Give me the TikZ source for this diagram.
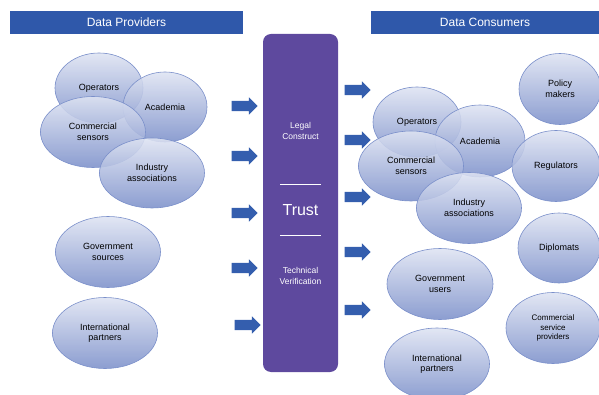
\documentclass[tikz,border=0pt]{standalone}
\usepackage{fontspec}
\setmainfont{Liberation Sans}
\usetikzlibrary{shapes.geometric,shapes.arrows}
\definecolor{bannerblue}{RGB}{47,88,170}
\definecolor{arrowblue}{RGB}{52,94,174}
\definecolor{trustpurple}{RGB}{94,73,158}
\definecolor{ovaltop}{RGB}{222,227,242}
\definecolor{ovalbot}{RGB}{124,144,202}
\definecolor{ovaledge}{RGB}{122,143,202}
\begin{document}
\begin{tikzpicture}[x=1pt,y=-1pt,
  oval/.style = {ellipse, draw=ovaledge, line width=0.6pt, top color=ovaltop, bottom color=ovalbot, fill opacity=0.88, text opacity=1, align=center, font=\fontsize{9}{10.5}\selectfont, inner sep=0pt},
  banner/.style = {fill=bannerblue, text=white, font=\fontsize{12}{14}\selectfont, minimum height=23pt, inner sep=0pt},
  push/.style = {single arrow, fill=arrowblue, inner sep=5pt, minimum height=26pt, single arrow head extend=3.5pt}]
  \useasboundingbox (0,0) rectangle (599,395);
  % headings
  \node[banner, minimum width=233pt] (prov) at (126.5,22.5) {Data Providers};
  \node[banner, minimum width=228pt] (cons) at (485,22.5) {Data Consumers};
  % trust box
  \node[fill=trustpurple, rounded corners=8pt, minimum width=75pt, minimum height=338pt, inner sep=0pt] (trust) at (300.5,203) {};
  \node[text=white, align=center, font=\fontsize{8.5}{11}\selectfont] (legal) at (300.5,130.5) {Legal\\Construct};
  \node[text=white, font=\fontsize{16}{18}\selectfont] (word) at (300.5,210) {Trust};
  \node[text=white, align=center, font=\fontsize{8.5}{11}\selectfont] (tech) at (300.5,276) {Technical\\Verification};
  \draw[white, line width=0.6pt] (280,184) -- (321,184);
  \draw[white, line width=0.6pt] (280,235) -- (321,235);
  % providers
  \node[oval, minimum width=88pt, minimum height=70pt] (p1) at (99,88) {Operators};
  \node[oval, minimum width=84pt, minimum height=70pt] (p2) at (165,107) {Academia};
  \node[oval, minimum width=105pt, minimum height=71pt] (p3) at (93,132) {Commercial\\sensors};
  \node[oval, minimum width=105pt, minimum height=70pt] (p4) at (152,173) {Industry\\associations};
  \node[oval, minimum width=105pt, minimum height=71pt] (p5) at (108,252) {Government\\sources};
  \node[oval, minimum width=105pt, minimum height=71pt] (p6) at (105,333) {International\\partners};
  % arrows in
  \node[push] (a1) at (242,106) {};
  \node[push] (a2) at (242,156) {};
  \node[push] (a3) at (242,213) {};
  \node[push] (a4) at (242,268) {};
  \node[push] (a5) at (245,325) {};
  % arrows out
  \node[push] (b1) at (355,90) {};
  \node[push] (b2) at (355,140) {};
  \node[push] (b3) at (355,197) {};
  \node[push] (b4) at (355,252) {};
  \node[push] (b5) at (355,310) {};
  % consumers
  \node[oval, minimum width=88pt, minimum height=70pt] (c1) at (417,122) {Operators};
  \node[oval, minimum width=90pt, minimum height=72pt] (c2) at (480,141) {Academia};
  \node[oval, minimum width=105pt, minimum height=70pt] (c3) at (411,166) {Commercial\\sensors};
  \node[oval, minimum width=105pt, minimum height=71pt] (c4) at (469,208) {Industry\\associations};
  \node[oval, minimum width=82pt, minimum height=71pt] (c5) at (560,89) {Policy\\makers};
  \node[oval, minimum width=88pt, minimum height=71pt] (c6) at (556,166) {Regulators};
  \node[oval, minimum width=82pt, minimum height=70pt] (c7) at (559,248) {Diplomats};
  \node[oval, minimum width=106pt, minimum height=71pt] (c8) at (440,284) {Government\\users};
  \node[oval, minimum width=94pt, minimum height=71pt, font=\fontsize{8}{9.5}\selectfont] (c9) at (553,328) {Commercial\\service\\providers};
  \node[oval, minimum width=105pt, minimum height=72pt] (c10) at (437,364) {International\\partners};
\end{tikzpicture}
\end{document}
